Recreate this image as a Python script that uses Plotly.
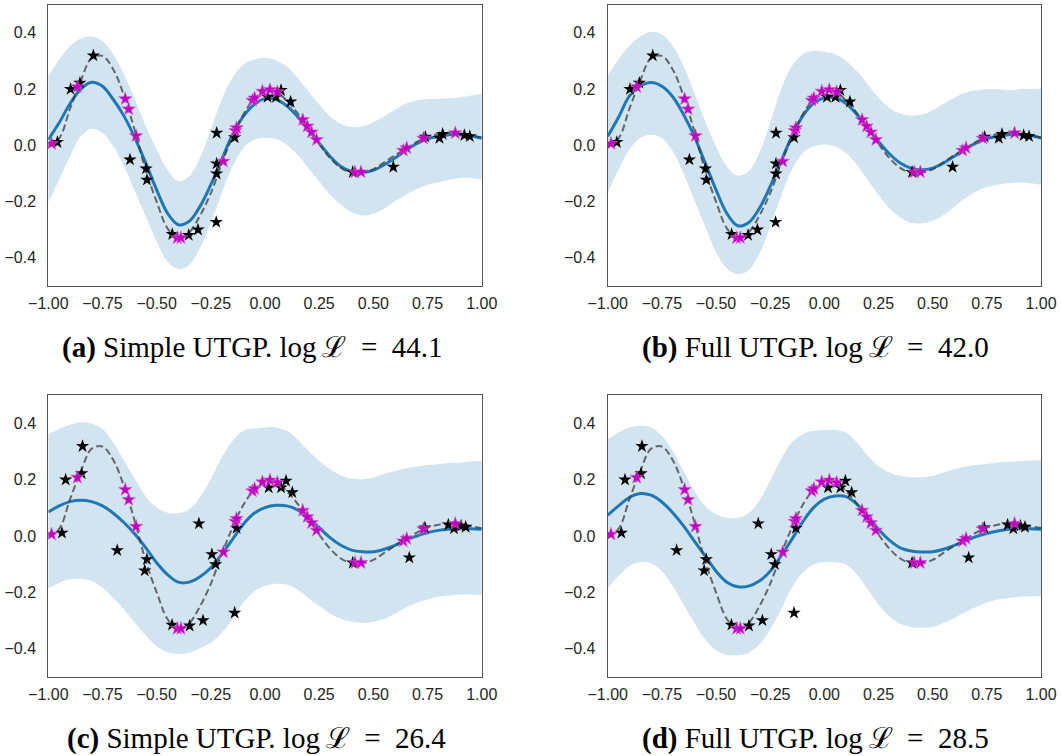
import plotly.graph_objects as go

# Evaluation grid shared by every panel
grid_x = [-1.0, -0.95, -0.9, -0.85, -0.8, -0.75, -0.7, -0.65, -0.6, -0.55, -0.5,
          -0.45, -0.4, -0.35, -0.3, -0.25, -0.2, -0.15, -0.1, -0.05, 0.0,
          0.05, 0.1, 0.15, 0.2, 0.25, 0.3, 0.35, 0.4, 0.45, 0.5,
          0.55, 0.6, 0.65, 0.7, 0.75, 0.8, 0.85, 0.9, 0.95, 1.0]

# Latent (true) function
true_f = [0.0, 0.025, 0.13, 0.23, 0.31, 0.318, 0.27, 0.175, 0.05, -0.09, -0.2,
          -0.295, -0.33, -0.31, -0.25, -0.17, -0.065, 0.03, 0.11, 0.165, 0.195,
          0.19, 0.16, 0.115, 0.06, 0.005, -0.045, -0.08, -0.097, -0.097, -0.085,
          -0.06, -0.035, -0.012, 0.012, 0.03, 0.04, 0.045, 0.042, 0.035, 0.028]

# Noise-free observations
clean_x = [-0.985, -0.866, -0.645, -0.629, -0.595, -0.405, -0.388, -0.192, -0.137,
           -0.131, -0.058, -0.048, -0.012, 0.023, 0.057, 0.174, 0.195, 0.215,
           0.238, 0.415, 0.443, 0.638, 0.654, 0.731, 0.878]
clean_y = [0.006, 0.208, 0.165, 0.129, 0.034, -0.329, -0.329, -0.057, 0.052,
           0.062, 0.160, 0.168, 0.192, 0.198, 0.190, 0.091, 0.068, 0.047,
           0.020, -0.095, -0.095, -0.018, -0.009, 0.025, 0.044]

# Noisy observations (inputs differ between the two experiments)
noisy_y = [0.011, 0.200, 0.222, 0.319, -0.051, -0.083, -0.123, -0.316, -0.319,
           -0.300, 0.044, -0.065, -0.101, -0.273, 0.028, 0.172, 0.172, 0.196,
           0.155, -0.095, -0.077, 0.030, 0.026, 0.040, 0.036, 0.032]
noisy_x_top = [-0.958, -0.897, -0.854, -0.792, -0.623, -0.549, -0.545, -0.428, -0.352,
               -0.309, -0.223, -0.223, -0.223, -0.225, -0.140, 0.012, 0.051, 0.074,
               0.118, 0.405, 0.592, 0.740, 0.805, 0.820, 0.920, 0.945]
noisy_x_bottom = [-0.937, -0.920, -0.846, -0.842, -0.682, -0.545, -0.555, -0.429, -0.348,
                  -0.286, -0.305, -0.245, -0.228, -0.140, -0.131, 0.017, 0.074, 0.097,
                  0.126, 0.405, 0.666, 0.738, 0.872, 0.846, 0.905, 0.926]

# Predictive mean and +/- 2 std envelopes
mean_a = [0.02, 0.08, 0.148, 0.2, 0.224, 0.21, 0.163, 0.103, 0.026, -0.063, -0.158,
          -0.241, -0.282, -0.27, -0.217, -0.14, -0.051, 0.038, 0.103, 0.145, 0.166,
          0.163, 0.141, 0.103, 0.056, 0.008, -0.039, -0.075, -0.093, -0.096, -0.089,
          -0.069, -0.045, -0.018, 0.006, 0.023, 0.032, 0.038, 0.038, 0.034, 0.025]
upper_a = [0.246, 0.305, 0.352, 0.38, 0.388, 0.37, 0.323, 0.251, 0.163, 0.068, -0.015,
           -0.087, -0.128, -0.11, -0.045, 0.056, 0.163, 0.24, 0.287, 0.305, 0.311,
           0.302, 0.281, 0.24, 0.192, 0.145, 0.103, 0.077, 0.065, 0.068, 0.082,
           0.103, 0.127, 0.148, 0.16, 0.165, 0.165, 0.167, 0.171, 0.177, 0.183]
lower_a = [-0.202, -0.122, -0.039, 0.032, 0.058, 0.044, -0.004, -0.075, -0.164, -0.253, -0.342,
           -0.413, -0.44, -0.425, -0.365, -0.276, -0.17, -0.075, -0.009, 0.02, 0.026,
           0.023, 0.002, -0.033, -0.081, -0.128, -0.176, -0.211, -0.238, -0.249, -0.244,
           -0.225, -0.199, -0.176, -0.155, -0.14, -0.132, -0.122, -0.116, -0.116, -0.122]

mean_b = [0.032, 0.1, 0.175, 0.21, 0.223, 0.21, 0.173, 0.11, 0.032, -0.063, -0.158,
          -0.242, -0.286, -0.275, -0.224, -0.146, -0.057, 0.032, 0.104, 0.149, 0.169,
          0.169, 0.149, 0.11, 0.062, 0.014, -0.03, -0.063, -0.081, -0.087, -0.081,
          -0.063, -0.039, -0.013, 0.008, 0.024, 0.032, 0.038, 0.038, 0.035, 0.026]
upper_b = [0.246, 0.306, 0.354, 0.387, 0.404, 0.395, 0.354, 0.282, 0.187, 0.086, -0.004,
           -0.075, -0.108, -0.093, -0.027, 0.08, 0.199, 0.282, 0.324, 0.336, 0.333,
           0.324, 0.3, 0.264, 0.217, 0.169, 0.133, 0.113, 0.106, 0.11, 0.125,
           0.148, 0.169, 0.187, 0.196, 0.199, 0.199, 0.196, 0.199, 0.201, 0.201]
lower_b = [-0.168, -0.087, -0.015, 0.026, 0.038, 0.026, -0.021, -0.099, -0.194, -0.289, -0.379,
           -0.438, -0.458, -0.444, -0.385, -0.289, -0.182, -0.087, -0.027, -0.004, 0.002,
           -0.004, -0.027, -0.069, -0.123, -0.176, -0.224, -0.256, -0.275, -0.277, -0.268,
           -0.248, -0.218, -0.188, -0.164, -0.149, -0.14, -0.135, -0.132, -0.135, -0.14]

mean_c = [0.085, 0.107, 0.122, 0.127, 0.122, 0.107, 0.081, 0.047, 0.006, -0.042, -0.095,
          -0.137, -0.164, -0.164, -0.145, -0.113, -0.065, -0.012, 0.042, 0.081, 0.101,
          0.109, 0.107, 0.093, 0.065, 0.03, -0.006, -0.033, -0.05, -0.056, -0.056,
          -0.047, -0.033, -0.014, 0.0, 0.012, 0.02, 0.024, 0.026, 0.026, 0.024]
upper_c = [0.362, 0.38, 0.395, 0.404, 0.4, 0.38, 0.332, 0.267, 0.202, 0.14, 0.101,
           0.083, 0.081, 0.095, 0.137, 0.202, 0.279, 0.338, 0.374, 0.382, 0.386,
           0.386, 0.374, 0.344, 0.303, 0.267, 0.237, 0.216, 0.204, 0.202, 0.208,
           0.22, 0.231, 0.241, 0.247, 0.252, 0.255, 0.259, 0.261, 0.265, 0.267]
lower_c = [-0.186, -0.166, -0.154, -0.152, -0.16, -0.184, -0.22, -0.261, -0.309, -0.354, -0.392,
           -0.413, -0.419, -0.415, -0.398, -0.38, -0.344, -0.297, -0.237, -0.196, -0.178,
           -0.17, -0.172, -0.19, -0.22, -0.249, -0.275, -0.294, -0.305, -0.309, -0.305,
           -0.294, -0.275, -0.255, -0.237, -0.226, -0.216, -0.211, -0.208, -0.208, -0.211]

mean_d = [0.074, 0.107, 0.137, 0.151, 0.145, 0.121, 0.083, 0.036, -0.018, -0.071, -0.125,
          -0.164, -0.18, -0.178, -0.16, -0.125, -0.071, -0.012, 0.05, 0.101, 0.131,
          0.142, 0.14, 0.113, 0.071, 0.024, -0.015, -0.042, -0.053, -0.057, -0.056,
          -0.047, -0.033, -0.018, -0.002, 0.009, 0.018, 0.024, 0.026, 0.026, 0.024]
upper_d = [0.344, 0.368, 0.386, 0.392, 0.386, 0.356, 0.303, 0.231, 0.16, 0.107, 0.077,
           0.065, 0.065, 0.081, 0.125, 0.196, 0.273, 0.332, 0.362, 0.374, 0.377,
           0.377, 0.368, 0.332, 0.285, 0.249, 0.226, 0.214, 0.209, 0.209, 0.214,
           0.226, 0.237, 0.246, 0.252, 0.256, 0.261, 0.264, 0.266, 0.268, 0.269]
lower_d = [-0.184, -0.142, -0.107, -0.093, -0.097, -0.125, -0.178, -0.243, -0.309, -0.368, -0.406,
           -0.423, -0.424, -0.415, -0.386, -0.332, -0.261, -0.184, -0.131, -0.101, -0.093,
           -0.093, -0.101, -0.137, -0.19, -0.243, -0.285, -0.312, -0.324, -0.326, -0.323,
           -0.309, -0.291, -0.271, -0.252, -0.237, -0.226, -0.22, -0.216, -0.214, -0.214]

captions = ["<b>(a)</b> Simple UTGP. log\u2009ℒ\u2002=\u200244.1",
            "<b>(b)</b> Full UTGP. log\u2009ℒ\u2002=\u200242.0",
            "<b>(c)</b> Simple UTGP. log\u2009ℒ\u2002=\u200226.4",
            "<b>(d)</b> Full UTGP. log\u2009ℒ\u2002=\u200228.5"]

x_ticks = [-1.0, -0.75, -0.5, -0.25, 0.0, 0.25, 0.5, 0.75, 1.0]
x_tick_text = ["−1.00", "−0.75", "−0.50", "−0.25", "0.00", "0.25", "0.50", "0.75", "1.00"]
y_ticks = [-0.4, -0.2, 0.0, 0.2, 0.4]
y_tick_text = ["−0.4", "−0.2", "0.0", "0.2", "0.4"]

W, H = 1061, 756
BLUE = "#1f77b4"
BAND = "rgba(31,119,180,0.2)"

panels = [
    dict(mean=mean_a, up=upper_a, lo=lower_a, nx=noisy_x_top,
         px=(48.3, 481.7), py=(4.7, 286.0), cap=(252, 347)),
    dict(mean=mean_b, up=upper_b, lo=lower_b, nx=noisy_x_top,
         px=(607.7, 1041.0), py=(4.7, 286.0), cap=(815, 347)),
    dict(mean=mean_c, up=upper_c, lo=lower_c, nx=noisy_x_bottom,
         px=(48.3, 481.7), py=(395.3, 676.7), cap=(256, 738)),
    dict(mean=mean_d, up=upper_d, lo=lower_d, nx=noisy_x_bottom,
         px=(607.7, 1041.0), py=(395.3, 676.7), cap=(815, 738)),
]

fig = go.Figure()
layout = dict(template="none", width=W, height=H, margin=dict(l=0, r=0, t=0, b=0),
              paper_bgcolor="white", plot_bgcolor="white", showlegend=False,
              annotations=[])

tick_font = dict(family="Liberation Sans, Arial, sans-serif", size=16, color="#262626")

for i, p in enumerate(panels):
    n = "" if i == 0 else str(i + 1)
    xa, ya = "x" + n, "y" + n

    fig.add_trace(go.Scatter(x=grid_x, y=p["up"], mode="lines", line=dict(width=0, shape="spline"),
                             xaxis=xa, yaxis=ya, hoverinfo="skip"))
    fig.add_trace(go.Scatter(x=grid_x, y=p["lo"], mode="lines", line=dict(width=0, shape="spline"),
                             fill="tonexty", fillcolor=BAND, xaxis=xa, yaxis=ya, hoverinfo="skip"))
    fig.add_trace(go.Scatter(x=grid_x, y=p["mean"], mode="lines",
                             line=dict(color=BLUE, width=3, shape="spline"), xaxis=xa, yaxis=ya))
    fig.add_trace(go.Scatter(x=grid_x, y=true_f, mode="lines",
                             line=dict(color="rgba(60,60,60,0.75)", width=2, dash="7px,3.5px",
                                       shape="spline"),
                             xaxis=xa, yaxis=ya))
    fig.add_trace(go.Scatter(x=p["nx"], y=noisy_y, mode="markers",
                             marker=dict(symbol="star", size=10, color="black", line=dict(width=0)),
                             xaxis=xa, yaxis=ya))
    fig.add_trace(go.Scatter(x=clean_x, y=clean_y, mode="markers",
                             marker=dict(symbol="star", size=10, color="#bf00bf",
                                         line=dict(width=0.6, color="#d35ad3")),
                             xaxis=xa, yaxis=ya))

    x0, x1 = p["px"]
    y0, y1 = p["py"]
    layout["xaxis" + n] = dict(domain=[x0 / W, x1 / W], range=[-1, 1], anchor=ya,
                               automargin=False,
                               showgrid=False, zeroline=False, showline=True, mirror=True,
                               linecolor="#555555", linewidth=1, ticks="",
                               tickvals=x_ticks, ticktext=x_tick_text, tickfont=tick_font,
                               ticklabelstandoff=3)
    layout["yaxis" + n] = dict(domain=[1 - y1 / H, 1 - y0 / H], range=[-0.5, 0.5], anchor=xa,
                               automargin=False,
                               showgrid=False, zeroline=False, showline=True, mirror=True,
                               linecolor="#555555", linewidth=1, ticks="",
                               tickvals=y_ticks, ticktext=y_tick_text, tickfont=tick_font,
                               ticklabelstandoff=8)
    cx, cy = p["cap"]
    layout["annotations"].append(dict(
        text=captions[i], x=cx / W, y=1 - cy / H, xref="paper", yref="paper",
        xanchor="center", yanchor="middle", showarrow=False,
        font=dict(family="Liberation Serif, DejaVu Serif, serif", size=29, color="black")))

fig.update_layout(**layout)
fig.write_html("out.html")
